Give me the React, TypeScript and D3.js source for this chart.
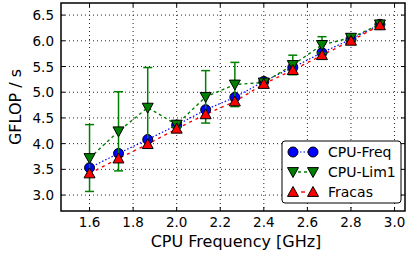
import * as d3 from "d3";

// GHz steps of the measured runs
const freqs = [1.6, 1.733, 1.867, 2.0, 2.133, 2.267, 2.4, 2.533, 2.667, 2.8, 2.933];
const cpuFreq = [3.53, 3.81, 4.08, 4.36, 4.66, 4.9, 5.21, 5.48, 5.77, 6.03, 6.32];
const cpuLim1 = [3.72, 4.24, 4.7, 4.37, 4.91, 5.15, 5.19, 5.53, 5.92, 6.06, 6.32];
const cpuLim1Err = [0.65, 0.77, 0.78, 0.05, 0.51, 0.43, 0.05, 0.19, 0.16, 0.05, 0.03];
const fracas = [3.42, 3.71, 3.99, 4.29, 4.57, 4.82, 5.16, 5.43, 5.72, 6.0, 6.3];

const xTicks = [1.6, 1.8, 2.0, 2.2, 2.4, 2.6, 2.8, 3.0];
const yTicks = [3.0, 3.5, 4.0, 4.5, 5.0, 5.5, 6.0, 6.5];
const legendLabels = ["CPU-Freq", "CPU-Lim1", "Fracas"];

const W = 406;
const H = 257;
const left = 61;
const right = 405;
const top = 3;
const bottom = 211;

const font = "DejaVu Sans, sans-serif";
const GREEN = "#007f00";

const x = d3.scaleLinear().domain([1.469, 3.048]).range([left, right]);
const y = d3.scaleLinear().domain([2.69, 6.735]).range([bottom, top]);

const circle = (cx: number, cy: number, key: string) => (
  <circle key={key} cx={cx} cy={cy} r={5} fill="#0000ff" stroke="#000" strokeWidth={1} />
);

const triUp = (cx: number, cy: number, key: string) => {
  const s = 5.5;
  return (
    <path
      key={key}
      d={`M${cx},${cy - s}L${cx + s},${cy + s * 0.8}L${cx - s},${cy + s * 0.8}Z`}
      fill="#ff0000"
      stroke="#000"
      strokeWidth={1}
    />
  );
};

const triDown = (cx: number, cy: number, key: string) => {
  const s = 5.5;
  return (
    <path
      key={key}
      d={`M${cx},${cy + s}L${cx + s},${cy - s * 0.8}L${cx - s},${cy - s * 0.8}Z`}
      fill={GREEN}
      stroke="#000"
      strokeWidth={1}
    />
  );
};

export default function App() {
  const line = d3
    .line<number>()
    .x((_, i) => x(freqs[i]))
    .y((d) => y(d));

  const legendX = 282;
  const legendY = 141;
  const rowY = [152, 172, 192];

  return (
    <svg
      width={W}
      height={H}
      style={{ position: "absolute", left: 0, top: 0, background: "#fff" }}
      fontFamily={font}
    >
      <rect width={W} height={H} fill="#fff" />

      {/* grid */}
      <g stroke="#000" strokeWidth={1} strokeDasharray="1,3" opacity={0.85}>
        {xTicks.map((t) => (
          <line key={"gx" + t} x1={x(t)} x2={x(t)} y1={top} y2={bottom} />
        ))}
        {yTicks.map((t) => (
          <line key={"gy" + t} x1={left} x2={right} y1={y(t)} y2={y(t)} />
        ))}
      </g>

      {/* series lines */}
      <path d={line(cpuFreq) ?? ""} fill="none" stroke="#0000ff" strokeWidth={1.2} strokeDasharray="1.5,2" />
      <path d={line(cpuLim1) ?? ""} fill="none" stroke={GREEN} strokeWidth={1.4} strokeDasharray="3,3" />
      <path d={line(fracas) ?? ""} fill="none" stroke="#ff0000" strokeWidth={1.4} strokeDasharray="3,4" />

      {/* CPU-Freq markers */}
      {cpuFreq.map((v, i) => circle(x(freqs[i]), y(v), "c" + i))}

      {/* CPU-Lim1 error bars + markers */}
      <g stroke={GREEN} strokeWidth={1.5}>
        {cpuLim1.map((v, i) => {
          const cx = x(freqs[i]);
          const y0 = y(v - cpuLim1Err[i]);
          const y1 = y(v + cpuLim1Err[i]);
          return (
            <g key={"e" + i}>
              <line x1={cx} x2={cx} y1={y0} y2={y1} />
              <line x1={cx - 4.5} x2={cx + 4.5} y1={y0} y2={y0} />
              <line x1={cx - 4.5} x2={cx + 4.5} y1={y1} y2={y1} />
            </g>
          );
        })}
      </g>
      {cpuLim1.map((v, i) => triDown(x(freqs[i]), y(v), "d" + i))}

      {/* Fracas markers */}
      {fracas.map((v, i) => triUp(x(freqs[i]), y(v), "u" + i))}

      {/* frame */}
      <rect x={left} y={top} width={right - left} height={bottom - top} fill="none" stroke="#000" strokeWidth={1.5} />

      {/* ticks (inside, all sides) */}
      <g stroke="#000" strokeWidth={1}>
        {xTicks.map((t) => (
          <g key={"tx" + t}>
            <line x1={x(t)} x2={x(t)} y1={bottom} y2={bottom - 4} />
            <line x1={x(t)} x2={x(t)} y1={top} y2={top + 4} />
          </g>
        ))}
        {yTicks.map((t) => (
          <g key={"ty" + t}>
            <line x1={left} x2={left + 4} y1={y(t)} y2={y(t)} />
            <line x1={right} x2={right - 4} y1={y(t)} y2={y(t)} />
          </g>
        ))}
      </g>

      {/* tick labels */}
      <g fontSize={13.5} fill="#000">
        {xTicks.map((t) => (
          <text key={"lx" + t} x={x(t)} y={bottom + 16} textAnchor="middle">
            {t.toFixed(1)}
          </text>
        ))}
        {yTicks.map((t) => (
          <text key={"ly" + t} x={left - 7} y={y(t) + 5} textAnchor="end">
            {t.toFixed(1)}
          </text>
        ))}
      </g>

      {/* axis labels */}
      <text x={236} y={247} textAnchor="middle" fontSize={16}>
        CPU Frequency [GHz]
      </text>
      <text transform={`translate(21,${(top + bottom) / 2}) rotate(-90)`} textAnchor="middle" fontSize={16}>
        GFLOP / s
      </text>

      {/* legend */}
      <rect x={legendX} y={legendY} width={119} height={62} rx={3} fill="#fff" stroke="#000" strokeWidth={1} />
      <line x1={293} x2={313} y1={rowY[0]} y2={rowY[0]} stroke="#0000ff" strokeWidth={1.2} strokeDasharray="1.5,2" />
      {circle(293, rowY[0], "lc1")}
      {circle(313, rowY[0], "lc2")}
      <line x1={293} x2={313} y1={rowY[1]} y2={rowY[1]} stroke={GREEN} strokeWidth={1.4} strokeDasharray="3,3" strokeDashoffset={-5} />
      {triDown(293, rowY[1], "ld1")}
      {triDown(313, rowY[1], "ld2")}
      <line x1={301} x2={305} y1={rowY[2]} y2={rowY[2]} stroke="#ff0000" strokeWidth={1.4} />
      {triUp(293, rowY[2], "lu1")}
      {triUp(313, rowY[2], "lu2")}
      {legendLabels.map((l, i) => (
        <text key={l} x={328} y={rowY[i] + 5} fontSize={14}>
          {l}
        </text>
      ))}
    </svg>
  );
}
